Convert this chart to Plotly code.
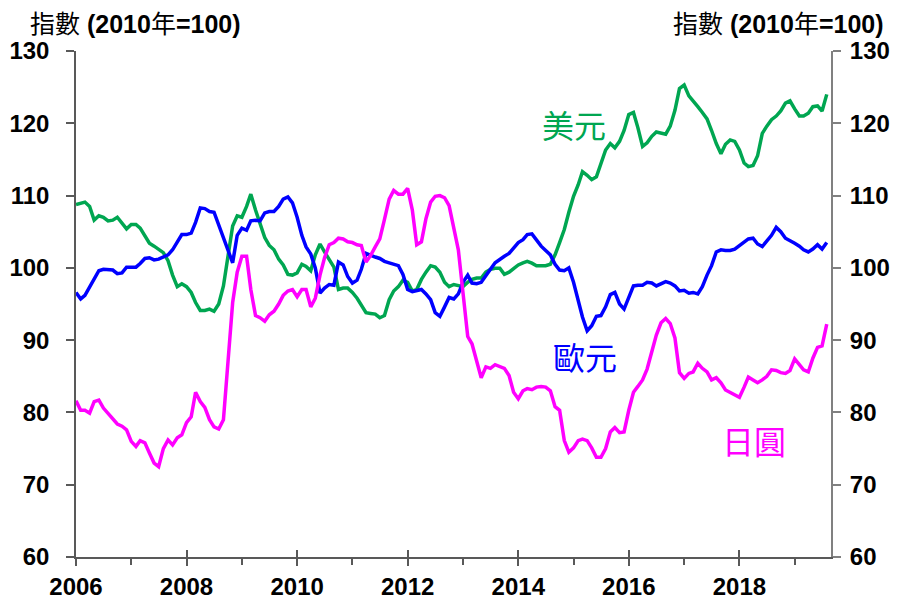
import pandas as pd
import plotly.graph_objects as go

# Monthly index, Jan 2006 - Aug 2019
dates = pd.date_range("2006-01-01", periods=164, freq="MS")

usd = [
    108.75, 108.9, 109.1, 108.5, 106.6, 107.2, 107.0, 106.5, 106.6, 107.0, 106.2, 105.4,
    106.0, 106.0, 105.5, 104.5, 103.4, 103.0, 102.5, 102.1, 101.0, 99.0, 97.4, 97.8,
    97.4, 96.6, 95.2, 94.1, 94.1, 94.3, 94.0, 95.0, 97.5, 102.0, 105.8, 107.2,
    107.0, 108.5, 110.2, 108.0, 106.0, 104.2, 103.1, 102.5, 101.2, 100.4, 99.1, 99.0,
    99.3, 100.5, 100.2, 99.6, 101.8, 103.3, 102.2, 101.2, 100.1, 97.0, 97.2, 97.2,
    96.6, 95.8, 94.9, 93.8, 93.7, 93.6, 93.1, 93.4, 95.6, 96.8, 97.4, 98.3,
    98.0, 96.8, 97.0, 98.4, 99.4, 100.3, 100.1, 99.4, 98.0, 97.4, 97.7, 97.6,
    97.4, 98.0, 98.4, 98.6, 98.6, 99.4, 99.8, 99.95, 99.95, 99.1, 99.4, 99.9,
    100.4, 100.7, 100.9, 100.65, 100.3, 100.3, 100.3, 100.5, 101.8, 103.5, 105.3, 107.7,
    109.9, 111.5, 113.3, 112.8, 112.2, 112.6, 114.5, 116.3, 117.2, 116.6, 117.5, 119.0,
    121.2, 121.5, 119.4, 116.8, 117.3, 118.2, 118.8, 118.6, 118.5, 119.6, 121.8, 124.8,
    125.3, 123.8, 123.0, 122.3, 121.5, 120.6, 119.0, 117.2, 115.8, 117.1, 117.7, 117.5,
    116.3, 114.5, 114.0, 114.15, 115.5, 118.6, 119.6, 120.5, 121.0, 121.7, 122.8, 123.1,
    122.0, 121.0, 121.0, 121.4, 122.3, 122.4, 121.7, 124.0,
]

eur = [
    96.6, 95.7, 96.2, 97.3, 98.5, 99.6, 99.8, 99.8, 99.7, 99.2, 99.3, 100.1,
    100.1, 100.1, 100.6, 101.3, 101.4, 101.1, 101.2, 101.5, 101.8, 102.5, 103.5, 104.6,
    104.6, 104.8, 106.3, 108.3, 108.2, 107.8, 107.7, 105.9, 104.0, 102.2, 100.7, 104.5,
    105.5, 105.2, 106.5, 106.6, 106.5, 107.6, 107.8, 107.8, 108.5, 109.5, 109.8, 109.0,
    107.0, 104.5, 102.9, 101.9, 100.0, 96.5, 97.2, 97.7, 97.6, 100.8, 100.4, 98.8,
    97.9, 98.3, 99.8, 102.0, 101.7, 101.5, 101.3, 100.9, 100.7, 100.5, 100.3, 99.1,
    97.0, 96.7, 96.9, 97.0, 96.4, 95.6, 93.8, 93.3, 94.6, 95.9, 95.7, 96.4,
    98.0, 99.0, 97.9, 97.8, 98.0, 99.0, 99.8, 100.7, 101.2, 101.6, 102.0, 102.7,
    103.5, 103.9, 104.6, 104.7, 103.9, 103.0, 102.4, 101.8, 100.5, 99.7, 99.6, 100.0,
    98.0, 95.2, 93.2, 91.3, 92.0, 93.3, 93.4, 94.6, 96.3, 96.6, 95.0, 94.3,
    95.9, 97.5, 97.6, 97.6, 98.0, 97.9, 97.5, 97.8, 98.1, 97.9, 97.5, 96.8,
    96.9, 96.5, 96.6, 96.4, 97.4, 99.0, 100.3, 102.2, 102.5, 102.4, 102.4, 102.6,
    103.1, 103.6, 104.0, 104.1, 103.3, 102.95, 103.7, 104.5, 105.6, 105.0, 104.1, 103.8,
    103.4, 103.0, 102.5, 102.2, 102.6, 103.2, 102.6, 103.5,
]

jpy = [
    81.6, 80.3, 80.3, 79.9, 81.5, 81.7, 80.6, 79.9, 79.2, 78.4, 78.1, 77.6,
    76.0, 75.3, 76.1, 75.8, 74.4, 73.0, 72.5, 75.0, 76.2, 75.5, 76.5, 76.9,
    78.6, 79.4, 82.8, 81.5, 80.7, 79.0, 78.0, 77.7, 79.0, 87.5, 95.2, 99.4,
    101.6, 101.6, 97.0, 93.4, 93.1, 92.6, 93.5, 94.0, 95.0, 96.2, 96.8, 97.0,
    96.0, 97.0, 97.0, 94.6, 95.8, 99.0, 101.4, 103.2, 103.5, 104.1, 104.0, 103.6,
    103.5, 103.2, 103.1, 100.8, 101.7, 102.9, 104.0, 106.7, 109.5, 110.7, 110.2, 110.2,
    111.0, 108.0, 103.2, 103.6, 106.8, 109.1, 109.9, 110.0, 109.7, 108.6, 105.5, 102.5,
    96.5, 90.5, 89.5, 87.1, 84.8, 86.3, 86.1, 86.6, 86.3, 86.1, 85.1, 82.8,
    81.9, 83.0, 83.3, 83.15, 83.5, 83.6, 83.5, 83.0, 80.8, 80.3, 76.1, 74.5,
    75.1, 76.1, 76.3, 76.1, 75.1, 73.8, 73.8, 75.0, 77.3, 77.9, 77.2, 77.3,
    80.3, 82.8, 83.6, 84.5, 86.0, 88.6, 90.7, 92.4, 93.0, 92.3, 90.3, 85.5,
    84.7, 85.4, 85.6, 86.8, 86.1, 85.6, 84.5, 84.8, 84.1, 83.1, 82.8, 82.4,
    82.1, 83.5, 84.9, 84.5, 84.1, 84.5, 85.0, 85.9, 85.8, 85.5, 85.4, 85.8,
    87.4, 86.6, 85.9, 85.6, 87.5, 89.0, 89.2, 92.2,
]

series_names = ["美元", "歐元", "日圓"]
series_colors = ["#00A651", "#0000FF", "#FF00FF"]
label_dates = ["2015-01-01", "2015-03-18", "2018-04-05"]
label_values = [119.9, 87.8, 76.2]

y_ticks = [60, 70, 80, 90, 100, 110, 120, 130]
axis_title = "指數 <b>(2010</b>年<b>=100)</b>"
x_range = ["2006-01-01", "2019-08-29"]

AXC = "#595959"
tickfont = dict(family="Liberation Sans, Arial, sans-serif", size=24, color="black", weight="bold")

fig = go.Figure()
for name, vals, col in zip(series_names, [usd, eur, jpy], series_colors):
    fig.add_trace(go.Scatter(x=dates, y=vals, mode="lines", name=name,
                             line=dict(color=col, width=3.5), showlegend=False))

for name, d, v, col in zip(series_names, label_dates, label_values, series_colors):
    fig.add_annotation(x=d, y=v, xref="x", yref="y", text=name, showarrow=False,
                       font=dict(family="Noto Sans CJK TC", size=32, color=col))

title_font = dict(family="Liberation Sans, Noto Sans CJK TC", size=25, color="black")
fig.add_annotation(x=-0.064, y=1.054, xref="paper", yref="paper", text=axis_title,
                   showarrow=False, xanchor="left", yanchor="middle", font=title_font)
fig.add_annotation(x=1.073, y=1.054, xref="paper", yref="paper", text=axis_title,
                   showarrow=False, xanchor="right", yanchor="middle", font=title_font)

# page body has an 8px margin, so the figure is sized to fit inside the 903x605 window
fig.update_layout(
    width=895, height=597, autosize=False,
    margin=dict(l=68, r=72, t=43, b=48, autoexpand=False),
    paper_bgcolor="white", plot_bgcolor="white",
    xaxis=dict(type="date", range=x_range, tick0="2006-01-01", dtick="M24",
               tickformat="%Y", ticks="outside", ticklen=7, tickwidth=1.5, tickcolor=AXC,
               minor=dict(dtick="M12", ticks="outside", ticklen=6, tickwidth=1.5, tickcolor=AXC),
               showline=True, linecolor=AXC, linewidth=1.5, showgrid=False, zeroline=False,
               tickfont=tickfont, automargin=False),
    xaxis2=dict(type="date", range=x_range, tick0="2006-01-01", dtick="M24",
                overlaying="x", matches="x", anchor="y", side="bottom",
                ticks="inside", ticklen=7, tickwidth=1.5, tickcolor=AXC,
                showticklabels=False, showline=False, showgrid=False, zeroline=False,
                automargin=False),
    yaxis=dict(range=[60, 130], tickvals=y_ticks, ticks="outside", ticklen=8, tickwidth=1.5,
               tickcolor=AXC, showline=True, linecolor=AXC, linewidth=1.5,
               showgrid=False, zeroline=False, tickfont=tickfont, ticklabelstandoff=12,
               automargin=False),
    yaxis2=dict(range=[60, 130], tickvals=y_ticks, overlaying="y", side="right", anchor="x",
                ticks="outside", ticklen=8, tickwidth=1.5, tickcolor="#808080",
                showline=True, linecolor="#808080", linewidth=2,
                showgrid=False, zeroline=False, tickfont=tickfont, ticklabelstandoff=4,
                automargin=False),
)

# render the overlay axes by attaching the yen series to the tick-overlay x axis
fig.data[2].update(xaxis="x2")
fig.add_trace(go.Scatter(x=[dates[0]], y=[None], yaxis="y2", showlegend=False, hoverinfo="skip"))

fig.write_html("out.html")
